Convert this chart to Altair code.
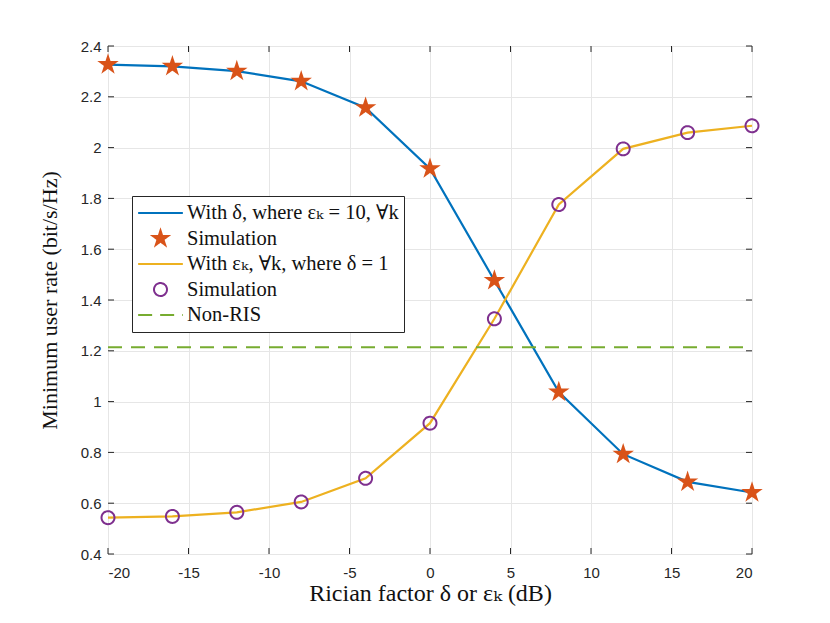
import math
import altair as alt
import pandas as pd

# ---------------- data ----------------
x_vals = [-20, -16, -12, -8, -4, 0, 4, 8, 12, 16, 20]
rate_delta = [2.327, 2.320, 2.301, 2.261, 2.157, 1.917, 1.477, 1.038, 0.793, 0.684, 0.642]
rate_eps = [0.543, 0.548, 0.564, 0.605, 0.698, 0.915, 1.326, 1.776, 1.995, 2.059, 2.086]
non_ris = [1.214]
non_ris_span = [-20, 20]
x_ticks = [-20, -15, -10, -5, 0, 5, 10, 15, 20]
y_ticks = [0.4, 0.6, 0.8, 1.0, 1.2, 1.4, 1.6, 1.8, 2.0, 2.2, 2.4]

keys = ["a", "b", "c", "d", "e"]
labels = [
    "With δ, where εₖ = 10, ∀k",
    "Simulation",
    "With εₖ, ∀k, where δ = 1",
    "Simulation",
    "Non-RIS",
]
colors = ["#0072BD", "#D95319", "#EDB120", "#7E2F8E", "#77AC30"]

# ---------------- tables ----------------
line_df = pd.DataFrame(
    {"x": x_vals * 2, "y": rate_delta + rate_eps, "key": ["a"] * len(x_vals) + ["c"] * len(x_vals)}
)
pts_df = pd.DataFrame(
    {"x": x_vals * 2, "y": rate_delta + rate_eps, "key": ["b"] * len(x_vals) + ["d"] * len(x_vals)}
)
nonris_df = pd.DataFrame({"y": non_ris, "x": [non_ris_span[0]], "x2": [non_ris_span[1]]})
xt_df = pd.DataFrame({"x": x_ticks})
yt_df = pd.DataFrame({"y": y_ticks})

W, H = 644, 508
DARK = "#262626"
GRID = "#e6e6e6"
SERIF = "'Liberation Serif', 'DejaVu Serif', serif"
SANS = "'Liberation Sans', Arial, sans-serif"

def star_path(r):
    pts = []
    for i in range(10):
        ang = math.radians(-90 + 36 * i)
        rr = r if i % 2 == 0 else r * 0.382
        pts.append(f"{rr * math.cos(ang):.4f},{rr * math.sin(ang):.4f}")
    return "M" + "L".join(pts) + "Z"

def circle_path(r):
    return f"M{-r},0A{r},{r} 0 1,0 {r},0A{r},{r} 0 1,0 {-r},0Z"

SYM = 2000
shapes = ["stroke", star_path(0.36), "stroke", circle_path(0.29), "stroke"]
fills = ["transparent", "#D95319", "transparent", "transparent", "transparent"]
dashes = [[1, 0], [1, 0], [1, 0], [1, 0], [14, 8]]

label_expr = ""
for k, l in zip(keys, labels):
    label_expr += f"datum.value == '{k}' ? '{l}' : "
label_expr += "''"

xscale = alt.Scale(domain=[-20, 20], nice=False, zero=False)
yscale = alt.Scale(domain=[0.4, 2.4], nice=False, zero=False)

xaxis = alt.Axis(
    values=x_ticks, labelExpr="'' + datum.value", title="Rician factor δ or εₖ (dB)",
    titleFont=SERIF, titleFontSize=24, titleFontWeight="normal", titleColor="#111111",
    labelFont=SANS, labelFontSize=15, labelColor=DARK, ticks=False, domain=False,
    grid=True, gridColor=GRID, labelPadding=11, titlePadding=1,
)
yaxis = alt.Axis(
    values=y_ticks, format="~g", title="Minimum user rate (bit/s/Hz)",
    titleFont=SERIF, titleFontSize=22, titleFontWeight="normal", titleColor="#111111",
    labelFont=SANS, labelFontSize=15, labelColor=DARK, ticks=False, domain=False,
    grid=True, gridColor=GRID, labelPadding=7, titlePadding=19,
)
xenc = alt.X("x:Q", scale=xscale, axis=xaxis)
yenc = alt.Y("y:Q", scale=yscale, axis=yaxis)

legend = alt.Legend(
    title=None, orient="none", legendX=24, legendY=150, padding=5,
    strokeColor=DARK, fillColor="white", cornerRadius=0,
    labelFont=SERIF, labelFontSize=20.5, labelColor="#111111", labelExpr=label_expr,
    labelLimit=0, symbolSize=SYM, symbolStrokeWidth=2, clipHeight=24, rowPadding=1.5,
    labelOffset=3,
)

# ---------------- layers ----------------
nonris = alt.Chart(nonris_df).mark_rule(color="#77AC30", strokeWidth=2, strokeDash=[14, 9]).encode(
    x=xenc, x2="x2:Q", y=yenc)

line_delta = alt.Chart(line_df).transform_filter("datum.key == 'a'").mark_line(
    color="#0072BD", strokeWidth=2.2).encode(x=xenc, y=yenc)
line_eps = alt.Chart(line_df).transform_filter("datum.key == 'c'").mark_line(
    color="#EDB120", strokeWidth=2.2).encode(x=xenc, y=yenc)

points = alt.Chart(pts_df).mark_point(filled=True, size=SYM, strokeWidth=2, opacity=1).encode(
    x=xenc, y=yenc,
    shape=alt.Shape("key:N", scale=alt.Scale(domain=keys, range=shapes), legend=legend),
    stroke=alt.Stroke("key:N", scale=alt.Scale(domain=keys, range=colors), legend=legend),
    fill=alt.Fill("key:N", scale=alt.Scale(domain=keys, range=fills), legend=legend),
    strokeDash=alt.StrokeDash("key:N", scale=alt.Scale(domain=keys, range=dashes), legend=legend),
)

TL = 6
ticks_bottom = alt.Chart(xt_df).mark_rule(color=DARK, strokeWidth=1).encode(
    x=xenc, y=alt.value(H), y2=alt.value(H - TL))
ticks_top = alt.Chart(xt_df).mark_rule(color=DARK, strokeWidth=1).encode(
    x=xenc, y=alt.value(0), y2=alt.value(TL))
ticks_left = alt.Chart(yt_df).mark_rule(color=DARK, strokeWidth=1).encode(
    y=yenc, x=alt.value(0), x2=alt.value(TL))
ticks_right = alt.Chart(yt_df).mark_rule(color=DARK, strokeWidth=1).encode(
    y=yenc, x=alt.value(W), x2=alt.value(W - TL))

chart = alt.layer(
    line_delta, line_eps, nonris, points, ticks_bottom, ticks_top, ticks_left, ticks_right
).properties(
    width=W, height=H,
    autosize=alt.AutoSizeParams(type="none"),
    padding={"left": 100, "top": 38, "right": 70, "bottom": 60},
).configure_view(
    stroke=DARK, strokeWidth=1
).configure(background="white")

chart.save("out.html", embed_options={"renderer": "svg", "actions": False})
